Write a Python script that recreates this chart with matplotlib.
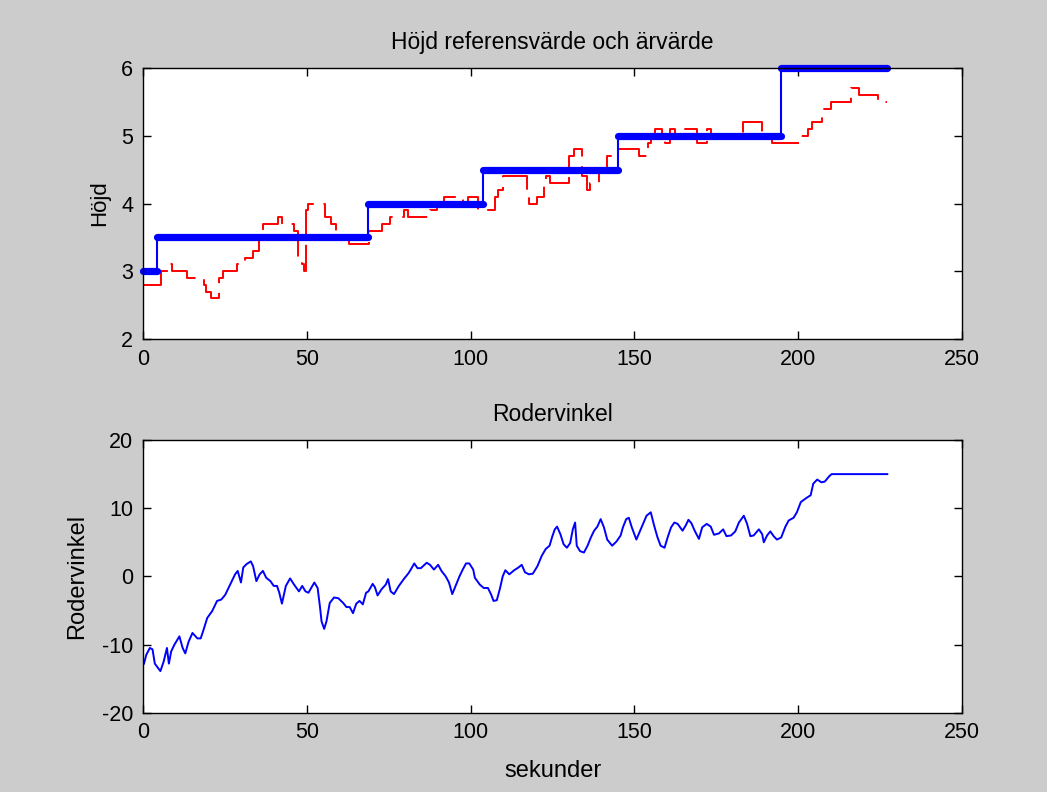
import numpy as np
import matplotlib
matplotlib.use("Agg")
import matplotlib.pyplot as plt

plt.rcParams['font.family'] = ['Liberation Sans', 'DejaVu Sans']
plt.rcParams['axes.unicode_minus'] = False

# reference height (steps)
ref_level = [3.0, 3.5, 4.0, 4.5, 5.0, 6.0]
ref_start = [0.0, 4.2, 68.6, 103.8, 144.9, 194.7]
ref_end = 227.2

# measured height (steps-post breakpoints)
red_t = [0, 5.5, 7.5, 8.7, 13.5, 18.5, 19.2, 20.7, 23.3, 24.3, 28.8, 31.0,
         33.6, 35.3, 36.5, 41.3, 42.3, 46.0, 47.3, 48.5, 49.2, 49.8, 50.5,
         55.5, 57.5, 59.0, 60.0, 63.0, 69.0, 73.0, 75.3, 79.6, 81.0, 87.5,
         89.8, 92.0, 97.7, 99.3, 102.2, 107.3, 108.5, 110.0, 117.2, 117.8,
         120.3, 122.5, 122.9, 124.3, 130.1, 131.5, 134.0, 135.5, 136.3,
         139.3, 141.5, 145.1, 151.5, 154.0, 155.2, 156.3, 158.5, 159.3,
         161.0, 162.5, 165.5, 169.1, 172.3, 173.5, 183.2, 189.0, 192.0,
         201.0, 203.0, 204.2, 207.3, 210.0, 216.0, 218.5, 224.5, 227.0]
red_h = [2.8, 3.0, 3.1, 3.0, 2.9, 2.8, 2.7, 2.6, 2.9, 3.0, 3.1, 3.2,
         3.3, 3.6, 3.7, 3.8, 3.7, 3.6, 3.2, 3.1, 3.0, 3.9, 4.0,
         3.8, 3.7, 3.6, 3.5, 3.4, 3.6, 3.7, 3.8, 3.9, 3.8, 3.9,
         4.0, 4.1, 4.0, 4.1, 3.9, 4.1, 4.2, 4.4, 4.2, 4.0,
         4.1, 4.3, 4.4, 4.3, 4.7, 4.8, 4.4, 4.2, 4.3,
         4.5, 4.7, 4.8, 4.7, 4.9, 5.0, 5.1, 5.0, 4.9,
         5.1, 5.0, 5.1, 4.9, 5.1, 5.0, 5.2, 5.0, 4.9,
         5.0, 5.1, 5.2, 5.4, 5.5, 5.7, 5.6, 5.5, 5.5]

# rudder angle
rod_t = [0.3, 1.0, 2.1, 2.9, 3.6, 5.3, 6.3, 7.3, 7.9, 8.6, 9.6, 11.1, 12.1,
         12.9, 13.9, 15.1, 16.6, 17.6, 18.3, 19.6, 21.1, 22.6, 23.9, 25.1,
         26.6, 28.1, 28.9, 29.9, 30.6, 31.6, 32.9, 33.6, 34.6, 35.6, 36.6,
         37.6, 38.9, 39.9, 40.9, 41.6, 42.4, 43.6, 44.9, 46.1, 47.6, 48.6,
         49.6, 50.5, 52.3, 53.3, 54.0, 54.5, 55.3, 56.0, 57.0, 58.3, 59.6,
         61.1, 62.1, 63.1, 64.1, 65.1, 66.1, 67.1, 68.1, 68.8, 70.1, 70.8,
         71.6, 72.8, 74.1, 74.8, 75.6, 76.6, 78.1, 79.6, 81.1, 82.1, 82.8,
         83.8, 84.8, 86.6, 87.6, 88.8, 90.1, 91.1, 92.4, 93.4, 94.4, 95.6,
         96.6, 97.6, 98.6, 99.6, 100.8, 101.3, 102.8, 104.0, 105.3, 106.3,
         107.0, 108.0, 109.0, 109.8, 110.6, 111.8, 113.3, 114.6, 115.6,
         116.6, 117.8, 119.0, 120.4, 121.7, 122.9, 124.1, 124.9, 125.7,
         126.4, 127.4, 128.4, 129.4, 130.4, 131.2, 131.9, 132.4, 133.4,
         134.6, 135.7, 136.7, 137.7, 138.7, 139.7, 140.7, 141.7, 143.2,
         144.5, 145.8, 146.5, 147.5, 148.3, 149.2, 150.6, 152.2, 153.7,
         155.0, 156.0, 157.0, 158.0, 159.2, 160.2, 161.2, 162.2, 163.2,
         164.7, 165.7, 166.5, 167.4, 168.4, 169.7, 170.7, 172.1, 173.3,
         174.3, 175.8, 177.1, 178.1, 179.5, 180.8, 181.9, 183.4, 184.4,
         185.4, 186.4, 188.0, 189.0, 189.5, 190.5, 191.5, 192.5, 193.5,
         194.8, 196.1, 197.1, 198.6, 199.6, 200.8, 202.5, 203.8, 204.6,
         205.8, 207.1, 208.1, 209.5, 210.2, 227.2]
rod_v = [-12.8, -11.5, -10.5, -10.7, -12.8, -13.9, -12.5, -10.5, -12.8, -11.0,
         -10.0, -8.8, -10.5, -11.3, -9.6, -8.3, -9.1, -9.1, -8.1, -6.1, -5.1,
         -3.6, -3.4, -2.7, -1.2, 0.3, 0.8, -0.9, 1.3, 1.8, 2.2, 1.5, -0.7,
         0.3, 0.8, -0.2, -0.7, -1.4, -1.4, -2.4, -4.0, -1.4, -0.3, -1.2,
         -2.2, -1.4, -2.2, -2.4, -0.9, -1.7, -4.4, -6.6, -7.7, -6.6, -3.9,
         -3.1, -3.2, -3.9, -4.5, -4.5, -5.4, -4.0, -3.6, -4.1, -2.4, -2.2,
         -1.1, -1.6, -2.8, -1.9, -1.2, -0.4, -2.2, -2.6, -1.4, -0.4, 0.5,
         1.3, 1.9, 1.2, 1.2, 2.0, 1.7, 1.0, 1.7, 0.8, 0.0, -0.9, -2.6, -1.2,
         0.0, 1.0, 1.9, 1.9, 1.0, -0.2, -1.2, -1.7, -1.7, -2.7, -3.6, -3.5,
         -1.7, 0.0, 0.9, 0.3, 0.9, 1.3, 1.7, 0.6, 0.3, 0.4, 1.5, 3.0, 4.0,
         4.5, 5.8, 6.9, 7.3, 6.2, 4.7, 4.2, 4.9, 6.9, 7.9, 4.5, 3.7, 3.5,
         4.5, 5.7, 6.7, 7.3, 8.4, 7.2, 5.4, 4.5, 5.1, 6.0, 7.2, 8.4, 8.6,
         7.2, 5.4, 7.2, 8.9, 9.4, 7.5, 5.8, 4.5, 4.2, 5.8, 7.2, 7.9, 7.7,
         6.7, 7.5, 8.3, 7.8, 6.7, 5.5, 7.2, 7.7, 7.3, 6.1, 6.3, 6.9, 5.9,
         6.0, 6.6, 7.9, 8.9, 7.7, 5.9, 6.0, 6.9, 6.2, 5.0, 6.0, 6.6, 5.9,
         5.4, 5.7, 7.3, 8.2, 8.6, 9.4, 10.9, 11.5, 11.9, 13.6, 14.2, 13.8,
         13.9, 14.7, 15.0, 15.0]

fig = plt.figure(figsize=(10.47, 7.92), dpi=100, facecolor='#cccccc')
fs = 15.5


def style(ax):
    ax.set_facecolor('white')
    ax.tick_params(direction='in', top=True, right=True, length=6,
                   width=1, labelsize=fs, pad=7, colors='black')
    for s in ax.spines.values():
        s.set_linewidth(1.0)
        s.set_color('black')


ax1 = fig.add_axes([0.1366, 0.572, 0.7822, 0.3421])
ax1.plot(red_t, red_h, color='red', lw=1.4, drawstyle='steps-post',
         dashes=(20, 5))
ref_x = ref_start + [ref_end]
ref_y = ref_level + [ref_level[-1]]
ax1.plot(ref_x, ref_y, color='blue', lw=1.5, drawstyle='steps-post')
ax1.hlines(ref_level, ref_start, ref_start[1:] + [ref_end], color='blue',
           lw=5.2, capstyle='round', clip_on=False)
ax1.set_xlim(0, 250)
ax1.set_ylim(2, 6)
ax1.set_yticks([2, 3, 4, 5, 6])
ax1.set_xticks([0, 50, 100, 150, 200, 250])
ax1.set_title('Höjd referensvärde och ärvärde', fontsize=16.5, pad=14)
ax1.set_ylabel('Höjd', fontsize=16, labelpad=8)
style(ax1)

ax2 = fig.add_axes([0.1366, 0.1001, 0.7822, 0.3443])
ax2.plot(rod_t, rod_v, color='blue', lw=1.4)
ax2.set_xlim(0, 250)
ax2.set_ylim(-20, 20)
ax2.set_yticks([-20, -10, 0, 10, 20])
ax2.set_xticks([0, 50, 100, 150, 200, 250])
ax2.set_title('Rodervinkel', fontsize=16.5, pad=14)
ax2.set_ylabel('Rodervinkel', fontsize=17, labelpad=10)
ax2.set_xlabel('sekunder', fontsize=17, labelpad=12)
style(ax2)

fig.savefig('out.png', dpi=100, facecolor=fig.get_facecolor())
